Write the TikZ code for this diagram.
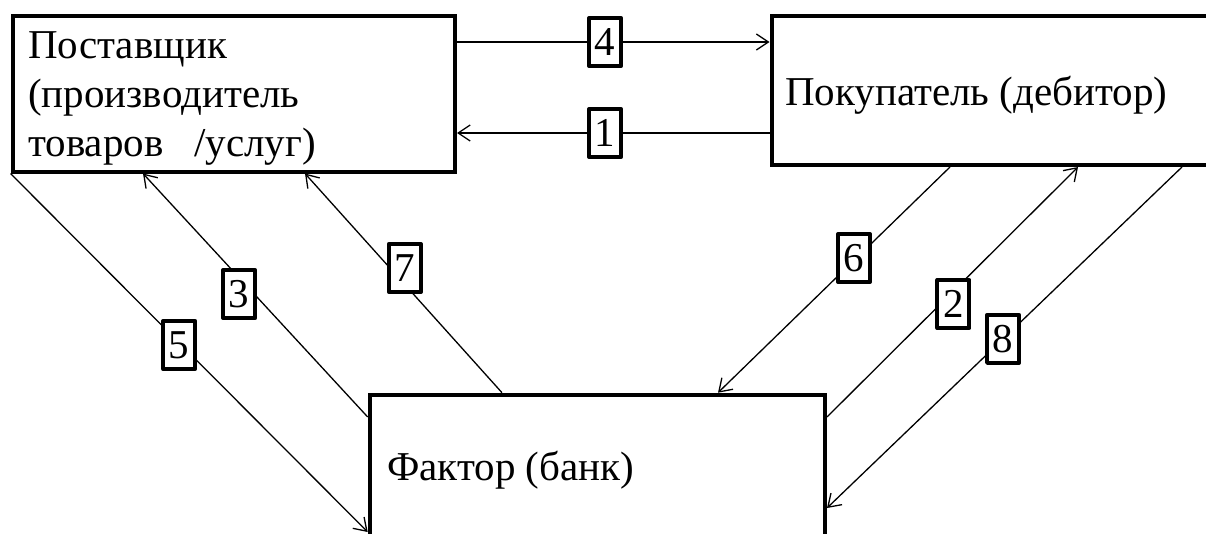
\documentclass[tikz,border=0pt]{standalone}
\usepackage{fontspec}
\setmainfont{Liberation Serif}
\usetikzlibrary{arrows.meta,calc}
\begin{document}
\begin{tikzpicture}[x=1pt,y=-1pt]
\tikzset{
  block/.style={draw, line width=4pt, anchor=north west, inner sep=0pt},
  caption/.style={anchor=base west, inner sep=0pt, font=\fontsize{41}{49}\selectfont},
  num/.style={draw, fill=white, line width=4pt, line join=round,
    minimum width=32pt, minimum height=48pt, inner sep=0pt,
    font=\fontsize{41}{49}\selectfont},
  flow/.style={line width=1.3pt,
    -{Straight Barb[length=12pt,width=16pt,line width=1.3pt]}}
}
% page frame
\path[use as bounding box, clip] (0,0) rectangle (1206,533);
\fill[white] (0,0) rectangle (1206,533);

% participants
\node[block, minimum width=442.5pt, minimum height=155.5pt] (sup) at (10.5,14) {};
\node[block, minimum width=500pt, minimum height=149pt] (buy) at (769.5,14) {};
\node[block, minimum width=455.3pt, minimum height=200pt] (fac) at (367.7,392.7) {};

\node[caption] (suptext) at (28,58)
  {\vtop{\hbox{Поставщик}\hbox{(производитель}\hbox{товаров~~~/услуг)}}};
\node[caption] (buytext) at (785,105) {Покупатель (дебитор)};
\node[caption] (factext) at (387,480) {Фактор (банк)};

% supplier <-> buyer
\draw[flow] ($(sup.north east)+(0,28)$) -- node[num, pos=0.474] (n4) {4}
  ($(buy.north west)+(0,28)$);
\draw[flow] ($(buy.north west)+(0,119)$) -- node[num, pos=0.526] (n1) {1}
  ($(sup.north east)+(0,119)$);

% supplier <-> factor
\draw[flow] (sup.south west) -- node[num, pos=0.478, xshift=-2pt] (n5) {5}
  ($(fac.north west)+(0,139.3)$);
\draw[flow] ($(fac.north west)+(0,24.3)$) -- node[num, pos=0.505, xshift=-15pt] (n3) {3}
  ($(sup.south west)+(132.5,0)$);
\draw[flow] ($(fac.north west)+(134.3,0)$) -- node[num, pos=0.569, xshift=15pt] (n7) {7}
  ($(sup.south west)+(294.5,0)$);

% buyer <-> factor
\draw[flow] ($(buy.south west)+(180.5,0)$) -- node[num, pos=0.403, xshift=-2.5pt] (n6) {6}
  ($(fac.north west)+(350.3,0)$);
\draw[flow] ($(fac.north east)+(0,24.3)$) -- node[num, pos=0.452, xshift=13pt] (n2) {2}
  ($(buy.south west)+(308.5,0)$);
\draw[flow] ($(buy.south west)+(412.5,0)$) -- node[num, pos=0.504] (n8) {8}
  ($(fac.north east)+(0,115.3)$);
\end{tikzpicture}
\end{document}
